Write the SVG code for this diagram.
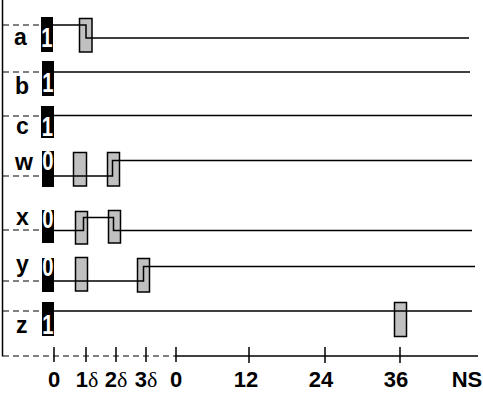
<svg xmlns="http://www.w3.org/2000/svg" width="483" height="395" viewBox="0 0 483 395">
<style>
.lbl{font-family:"Liberation Sans",Arial,sans-serif;font-weight:bold;font-size:23px;fill:#000}
.dig{font-family:"Liberation Sans",Arial,sans-serif;font-weight:bold;font-size:27px;fill:#fff;text-anchor:middle}
.ax{font-family:"Liberation Sans",Arial,sans-serif;font-weight:bold;font-size:22px;fill:#000;text-anchor:middle}
.dl{font-family:"Liberation Serif",serif;font-weight:normal}
.blk{fill:#000}
.gry{fill:#c0c0c0;stroke:#000;stroke-width:1.5}
.sig{fill:none;stroke:#000;stroke-width:1.5}
.dash{fill:none;stroke:#000;stroke-width:1.2;stroke-dasharray:6,4}
</style>
<rect width="483" height="395" fill="#fff"/>
<g id="axis">
<path class="sig" d="M2.5,0 V356.5"/>
<path class="dash" d="M3,356 H175"/>
<path class="sig" d="M175,356 H478"/>
<path class="sig" d="M54,347 V362 M86,347 V362 M116,347 V362 M146,347 V362 M176,347 V362 M249,347 V363 M325,347 V363 M400,347 V363"/>
<text class="ax" x="54" y="387">0</text>
<text class="ax" x="87" y="387">1<tspan class="dl">δ</tspan></text>
<text class="ax" x="116" y="387">2<tspan class="dl">δ</tspan></text>
<text class="ax" x="146" y="387">3<tspan class="dl">δ</tspan></text>
<text class="ax" x="176" y="387">0</text>
<text class="ax" x="246" y="387">12</text>
<text class="ax" x="321" y="387">24</text>
<text class="ax" x="396" y="387">36</text>
<text class="ax" x="467" y="387">NS</text>
</g>
<g id="connectors">
<path class="dash" d="M3,25 H41"/>
<path class="dash" d="M3,72 H42"/>
<path class="dash" d="M3,116 H41"/>
<path class="dash" d="M3,176 H42"/>
<path class="dash" d="M3,230 H42"/>
<path class="dash" d="M3,281 H42"/>
<path class="dash" d="M3,311 H42"/>
</g>
<g id="row-a">
<text class="lbl" x="14" y="45">a</text>
<rect class="blk" x="41" y="17" width="12" height="35"/>
<text class="dig" transform="translate(47,47) scale(0.75,1)">1</text>
<rect class="gry" x="79.5" y="18.5" width="12.5" height="33.5"/>
<path class="sig" d="M53,25 H86 V38 H469"/>
</g>
<g id="row-b">
<text class="lbl" x="15" y="94">b</text>
<rect class="blk" x="42" y="61" width="12" height="35"/>
<text class="dig" transform="translate(48,92) scale(0.75,1)">1</text>
<path class="sig" d="M54,72 H470"/>
</g>
<g id="row-c">
<text class="lbl" x="16" y="134">c</text>
<rect class="blk" x="41" y="106" width="13" height="32"/>
<text class="dig" transform="translate(47.5,136) scale(0.75,1)">1</text>
<path class="sig" d="M54,115.5 H472"/>
</g>
<g id="row-w">
<text class="lbl" x="15" y="170">w</text>
<rect class="blk" x="42" y="151" width="12" height="36"/>
<text class="dig" transform="translate(48,170) scale(0.75,1)">0</text>
<rect class="gry" x="73.5" y="152.5" width="13" height="33.5"/>
<rect class="gry" x="107.5" y="152.5" width="12" height="33.5"/>
<path class="sig" d="M54,176 H112.5 V160.5 H472"/>
</g>
<g id="row-x">
<text class="lbl" x="16" y="225">x</text>
<rect class="blk" x="42" y="210" width="12" height="33"/>
<text class="dig" transform="translate(48,228) scale(0.75,1)">0</text>
<rect class="gry" x="75.5" y="211.5" width="12" height="32.5"/>
<rect class="gry" x="108.5" y="210.5" width="12" height="32.5"/>
<path class="sig" d="M54,230.5 H83.5 V217.5 H113.5 V230.5 H472"/>
</g>
<g id="row-y">
<text class="lbl" x="16" y="272">y</text>
<rect class="blk" x="42" y="258" width="12" height="34"/>
<text class="dig" transform="translate(48,276) scale(0.75,1)">0</text>
<rect class="gry" x="75.5" y="257.5" width="12" height="33.5"/>
<rect class="gry" x="137.5" y="258.5" width="12" height="33.5"/>
<path class="sig" d="M54,281 H143.5 V266.5 H475"/>
</g>
<g id="row-z">
<text class="lbl" x="16" y="333">z</text>
<rect class="blk" x="42" y="302" width="12" height="34"/>
<text class="dig" transform="translate(48,334) scale(0.75,1)">1</text>
<rect class="gry" x="394.5" y="302.5" width="12" height="34"/>
<path class="sig" d="M54,311 H472"/>
</g>
</svg>
